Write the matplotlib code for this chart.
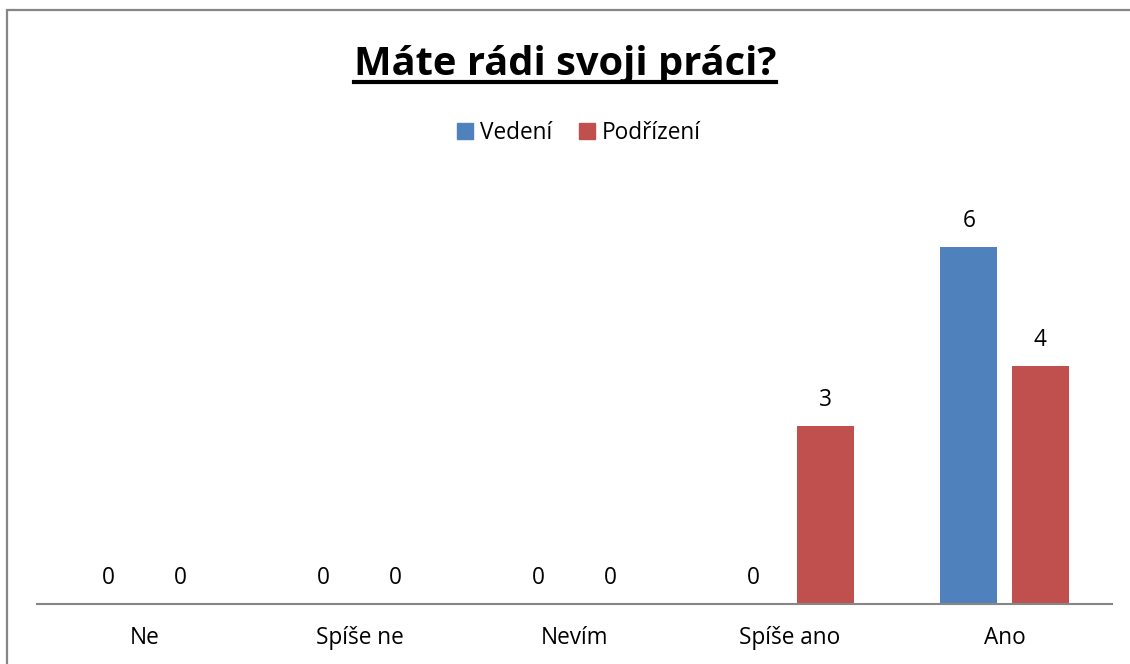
import matplotlib
matplotlib.use("Agg")
import matplotlib.pyplot as plt
import numpy as np
from matplotlib.patches import Rectangle, Patch
from matplotlib.lines import Line2D

categories = ["Ne", "Spíše ne", "Nevím", "Spíše ano", "Ano"]
series_names = ["Vedení", "Podřízení"]
vedeni = [0, 0, 0, 0, 6]
podrizeni = [0, 0, 0, 3, 4]
title = "Máte rádi svoji práci?"

blue = "#4F81BD"
red = "#C0504D"
gray = "#868686"
FONT = ["Open Sans", "DejaVu Sans"]
plt.rcParams["font.family"] = FONT
FS = 16.3

W, H = 1130, 664
fig = plt.figure(figsize=(W / 100, H / 100), dpi=100)

ax_left, ax_right, ax_bottom, ax_top = 37, 1112, 604, 187.5
ax = fig.add_axes([ax_left / W, 1 - ax_bottom / H, (ax_right - ax_left) / W, (ax_bottom - ax_top) / H])

x = np.arange(len(categories))
bw = 0.265
off = 0.166
b1 = ax.bar(x - off, vedeni, bw, color=blue)
b2 = ax.bar(x + off, podrizeni, bw, color=red)
ax.bar_label(b1, padding=10, fontsize=FS, color="black")
ax.bar_label(b2, padding=10, fontsize=FS, color="black")

ax.set_xlim(-0.5, len(categories) - 0.5)
ax.set_ylim(0, 7)
ax.set_xticks(x)
ax.set_xticklabels(categories, fontsize=FS)
ax.tick_params(axis="x", length=0, pad=16)
ax.set_yticks([])
for s in ["left", "right", "top"]:
    ax.spines[s].set_visible(False)
ax.spines["bottom"].set_color(gray)
ax.spines["bottom"].set_linewidth(1.5)

# outer border
fig.patches.append(Rectangle((7 / W, -0.1), 1.2, 1 - 10 / H + 0.1, transform=fig.transFigure,
                             fill=False, edgecolor=gray, linewidth=1.6))

# title with underline
t = fig.text(0.5, 1 - 75 / H, title, ha="center", va="baseline", fontsize=28.7, fontweight="bold")
fig.canvas.draw()
bb = t.get_window_extent()
uy = 1 - 82 / H
fig.lines.append(Line2D([bb.x0 / W, bb.x1 / W], [uy, uy], transform=fig.transFigure,
                        color="black", linewidth=3))

handles = [Patch(color=blue), Patch(color=red)]
fig.legend(handles, series_names, loc="center", bbox_to_anchor=(579 / W, 1 - 133 / H), ncol=2,
           frameon=False, fontsize=FS, handlelength=0.7, handleheight=0.7, handletextpad=0.3,
           columnspacing=1.2)

fig.savefig("out.png", dpi=100)
